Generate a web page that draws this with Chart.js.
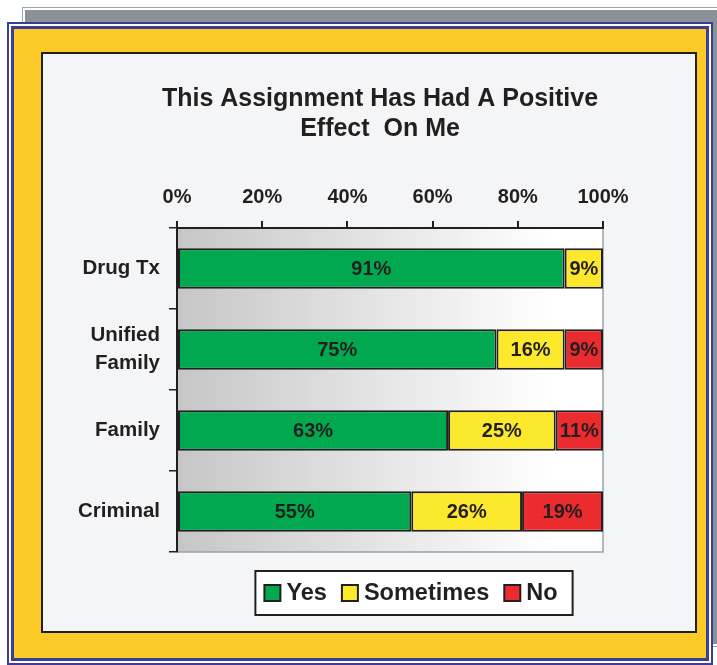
<!DOCTYPE html>
<html>
<head>
<meta charset="utf-8">
<script src="https://cdn.jsdelivr.net/npm/chart.js@4.4.0/dist/chart.umd.min.js"></script>
<style>
  html, body { margin: 0; padding: 0; background: #fff; }
  body { width: 717px; height: 665px; position: relative; overflow: hidden; }
  .back { position: absolute; left: 22px; top: 7px; width: 710px; height: 640px; box-sizing: border-box; border: 1px solid #a2a6aa; padding: 2px; background: #fff; }
  .back div { width: 100%; height: 100%; background: #8a9197; }
  .front { position: absolute; left: 7px; top: 22px; width: 706px; height: 643px; box-sizing: border-box; border: 2px solid #3b3d97; padding: 2px; background: #fff; }
  .front div { width: 100%; height: 100%; box-sizing: border-box; border: 3px solid #3b3d97; background: #fcca26; }
  .panel { position: absolute; left: 41px; top: 52px; width: 656px; height: 581px; box-sizing: border-box; border: 2px solid #231f20; background: #f4f5f7; }
  canvas { display: block; }
</style>
</head>
<body>
<div class="back"><div></div></div>
<div class="front"><div></div></div>
<div class="panel"><canvas id="chart" width="652" height="577"></canvas></div>
<script>
// Datos
const categorias = ['Drug Tx', ['Unified', 'Family'], 'Family', 'Criminal'];
const yes = [91, 75, 63, 55];
const sometimes = [9, 16, 25, 26];
const no = [0, 9, 11, 19];
const series = ['Yes', 'Sometimes', 'No'];
const ticksX = [0, 20, 40, 60, 80, 100];

const colores = ['#00a94f', '#fce92c', '#ec2b2e'];
const tinta = '#231f20';
const fuente = '"Liberation Sans", Arial, sans-serif';

// cada barra ocupa el 100% (algunas filas suman 99)
const valores = [yes, sometimes, no];
const totales = yes.map((v, i) => v + sometimes[i] + no[i]);
const datasets = valores.map((vals, k) => ({
    label: series[k],
    data: vals.map((v, i) => v / totales[i] * 100),
    valores: vals,
    backgroundColor: colores[k],
    borderColor: tinta,
    borderWidth: 2,
    borderSkipped: false,
    barPercentage: 0.5,
    categoryPercentage: 1
}));

// fondo degradado del area + titulo un poco a la derecha
const fondo = {
    id: 'fondo',
    afterLayout(chart) {
        const t = chart.titleBlock;
        if (!t) return;
        const d = 337 - (t.left + t.right) / 2;
        t.left += d;
        t.right += d;
    },
    beforeDraw(chart) {
        const { ctx, chartArea: a } = chart;
        const g = ctx.createLinearGradient(a.left, 0, a.right, 0);
        g.addColorStop(0, '#c6c6c6');
        g.addColorStop(0.88, '#ffffff');
        g.addColorStop(1, '#ffffff');
        ctx.save();
        ctx.fillStyle = g;
        ctx.fillRect(a.left, a.top, a.width, a.height);
        ctx.strokeStyle = '#98a1a9';
        ctx.lineWidth = 1.5;
        ctx.beginPath();
        ctx.moveTo(a.right, a.top);
        ctx.lineTo(a.right, a.bottom);
        ctx.lineTo(a.left, a.bottom);
        ctx.stroke();
        ctx.restore();
    }
};

// porcentajes dentro de las barras
const etiquetas = {
    id: 'etiquetas',
    afterDatasetsDraw(chart) {
        const ctx = chart.ctx;
        ctx.save();
        ctx.font = 'bold 20px ' + fuente;
        ctx.fillStyle = tinta;
        ctx.textAlign = 'center';
        ctx.textBaseline = 'middle';
        chart.data.datasets.forEach((ds, k) => {
            chart.getDatasetMeta(k).data.forEach((bar, i) => {
                const v = ds.valores[i];
                if (!v) return;
                const { x, y, base } = bar.getProps(['x', 'y', 'base'], true);
                ctx.fillText(v + '%', (x + base) / 2, y + 1);
            });
        });
        ctx.restore();
    }
};

// leyenda con caja
const leyenda = {
    id: 'leyenda',
    afterDraw(chart) {
        const { ctx, chartArea: a } = chart;
        ctx.save();
        ctx.font = 'bold 23.5px ' + fuente;
        const caja = 16, sep = 6, hueco = 15, padL = 9, padR = 15, h = 44;
        const items = chart.data.datasets.map(ds => ({
            texto: ds.label,
            color: ds.backgroundColor,
            w: ctx.measureText(ds.label).width
        }));
        const contenido = items.reduce((s, it) => s + caja + sep + it.w, 0) + hueco * (items.length - 1);
        const w = contenido + padL + padR;
        const x0 = (a.left + a.right) / 2 + 24 - w / 2;
        const y0 = a.bottom + 19;
        ctx.fillStyle = '#fff';
        ctx.fillRect(x0, y0, w, h);
        ctx.strokeStyle = tinta;
        ctx.lineWidth = 2;
        ctx.strokeRect(x0, y0, w, h);
        const cy = y0 + h / 2;
        let x = x0 + padL;
        ctx.textAlign = 'left';
        ctx.textBaseline = 'middle';
        items.forEach(it => {
            ctx.fillStyle = it.color;
            ctx.fillRect(x, cy - 8, caja, caja);
            ctx.strokeRect(x, cy - 8, caja, caja);
            x += caja + sep;
            ctx.fillStyle = tinta;
            ctx.fillText(it.texto, x, cy + 1);
            x += it.w + hueco;
        });
        ctx.restore();
    }
};

new Chart(document.getElementById('chart'), {
    type: 'bar',
    data: { labels: categorias, datasets: datasets },
    options: {
        indexAxis: 'y',
        responsive: false,
        animation: false,
        layout: { padding: { left: 24, right: 92, top: 0, bottom: 79 } },
        plugins: {
            legend: { display: false },
            tooltip: { enabled: false },
            title: {
                display: true,
                text: ['This Assignment Has Had A Positive', 'Effect  On Me'],
                color: tinta,
                font: { family: fuente, size: 25, weight: 'bold', lineHeight: 1.2 },
                padding: { top: 30, bottom: 24 }
            }
        },
        scales: {
            x: {
                position: 'top',
                stacked: true,
                min: 0,
                max: 100,
                afterBuildTicks: s => { s.ticks = ticksX.map(v => ({ value: v })); },
                afterFit: s => { s.height = 60; },
                ticks: {
                    callback: v => v + '%',
                    color: tinta,
                    font: { family: fuente, size: 20, weight: 'bold' },
                    padding: 12
                },
                grid: { drawOnChartArea: false, tickLength: 7, color: tinta, lineWidth: 2 },
                border: { color: tinta, width: 2 }
            },
            y: {
                stacked: true,
                afterFit: s => { s.width = 110; },
                ticks: {
                    color: tinta,
                    font: { family: fuente, size: 20.5, weight: 'bold', lineHeight: 1.37 },
                    padding: 9
                },
                grid: { drawOnChartArea: false, offset: true, tickLength: 8, color: tinta, lineWidth: 1.5 },
                border: { color: tinta, width: 2 }
            }
        }
    },
    plugins: [fondo, etiquetas, leyenda]
});
</script>
</body>
</html>
